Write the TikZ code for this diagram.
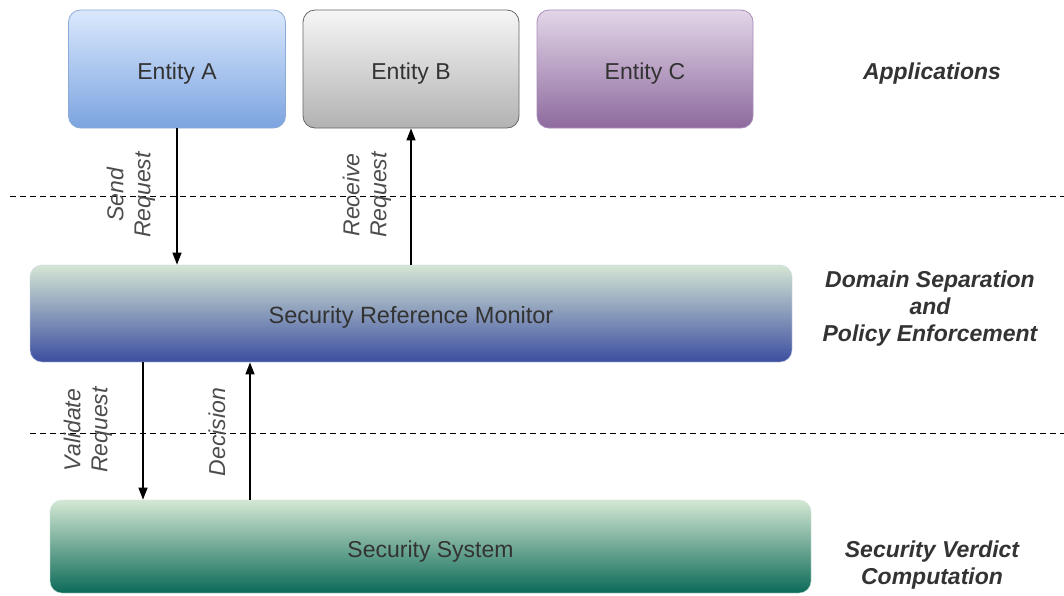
\documentclass[tikz,border=0pt]{standalone}
\usepackage{fontspec}
\setmainfont{Liberation Sans}
\usetikzlibrary{arrows.meta,calc}

\definecolor{txt}{HTML}{333333}
\definecolor{lbl}{HTML}{4D4D4D}

\tikzset{
  box/.style={rounded corners=12pt, draw, line width=0.8pt, text=txt,
    font=\fontsize{23}{27}\selectfont, inner sep=0pt,
    text height=20pt, text depth=0pt},
  flow/.style={line width=1.4pt, -{Triangle[length=12pt,width=9pt]}},
  sep/.style={line width=1pt, dash pattern=on 6pt off 4pt},
  side/.style={text=lbl, font=\fontsize{23}{27}\selectfont\itshape,
    rotate=90, align=center},
  layer/.style={text=txt, font=\fontsize{23}{27}\selectfont\bfseries\itshape,
    align=center}
}

\begin{document}
\begin{tikzpicture}[x=1pt,y=-1pt]
\useasboundingbox (0,0) rectangle (1064,595);

% application entities
\node[box, minimum width=217pt, minimum height=118pt,
      top color={rgb,255:red,218;green,232;blue,252},
      bottom color={rgb,255:red,124;green,164;blue,224},
      draw={rgb,255:red,140;green,170;blue,215}] (ea) at (177,69) {Entity A};
\node[box, minimum width=216pt, minimum height=118pt,
      top color={rgb,255:red,246;green,246;blue,246},
      bottom color={rgb,255:red,178;green,178;blue,178},
      draw={rgb,255:red,102;green,102;blue,102}] (eb) at (411,69) {Entity B};
\node[box, minimum width=216pt, minimum height=118pt,
      top color={rgb,255:red,226;green,214;blue,232},
      bottom color={rgb,255:red,142;green,106;blue,158},
      draw={rgb,255:red,170;green,140;blue,185}] (ec) at (645,69) {Entity C};

% reference monitor and security system
\node[box, minimum width=762pt, minimum height=97pt,
      top color={rgb,255:red,212;green,230;blue,212},
      bottom color={rgb,255:red,60;green,78;blue,160},
      draw={rgb,255:red,200;green,210;blue,225}, draw opacity=0.5,
      font=\fontsize{23.5}{27}\selectfont] (srm) at (411,313.5) {Security Reference Monitor};
\node[box, minimum width=761pt, minimum height=93pt,
      top color={rgb,255:red,212;green,232;blue,212},
      bottom color={rgb,255:red,12;green,106;blue,88},
      draw={rgb,255:red,200;green,225;blue,210}, draw opacity=0.5,
      text height=22pt] (ss) at (430.5,546.5) {Security System};

% layer separators
\draw[sep] (10,196) -- (1064,196);
\draw[sep] (30,433) -- (1064,433);

% request flow
\draw[flow] (ea.south) -- (ea.south |- srm.north);
\draw[flow] (srm.north) -- (eb.south);
\coordinate (vx) at (143,0);
\coordinate (dx) at (250,0);
\draw[flow] (srm.south -| vx) -- (ss.north -| vx);
\draw[flow] (ss.north -| dx) -- (srm.south -| dx);

% connector labels
\node[side] (lsend) at (131,195) {Send\\Request};
\node[side] (lrecv) at (367,195) {Receive\\Request};
\node[side] (lval) at (88,430) {Validate\\Request};
\node[side] (ldec) at (217,432) {Decision};

% layer names
\node[layer] (lapp) at (932,74) {Applications};
\node[layer] (ldom) at (930,309) {Domain Separation\\and\\Policy Enforcement};
\node[layer] (lver) at (932,565) {Security Verdict\\Computation};
\end{tikzpicture}
\end{document}
